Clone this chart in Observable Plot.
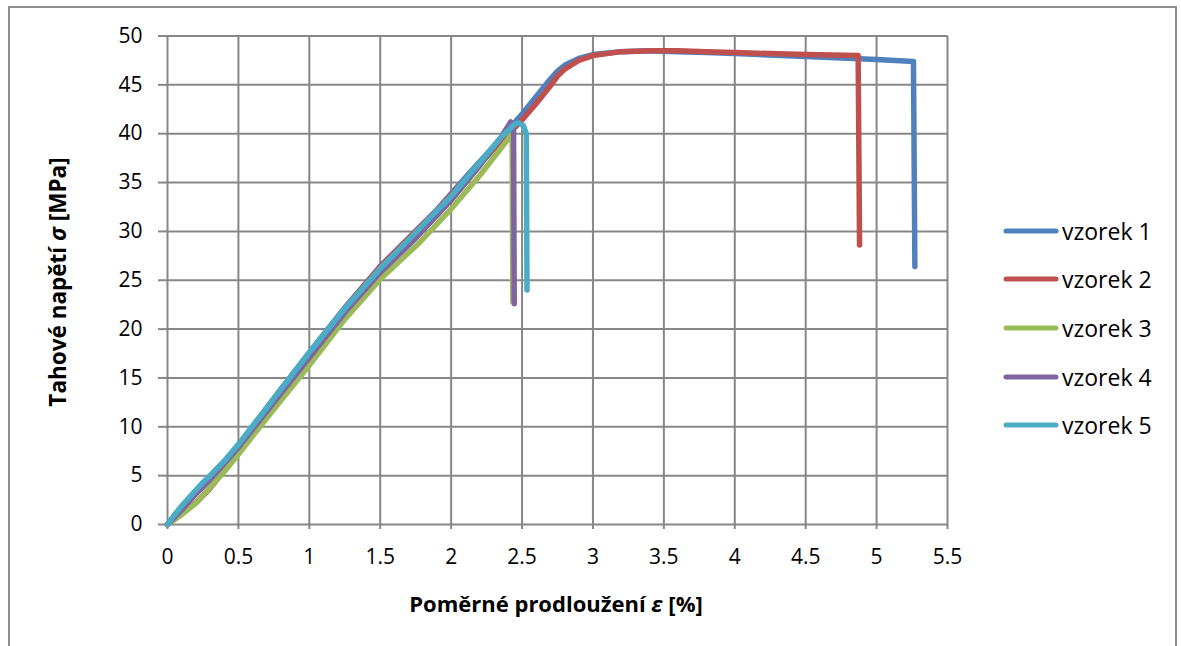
<!DOCTYPE html>
<html>
<head>
<meta charset="utf-8">
<script src="https://cdn.jsdelivr.net/npm/d3@7"></script>
<script src="https://cdn.jsdelivr.net/npm/@observablehq/plot@0.6"></script>
<style>
  html, body { margin: 0; padding: 0; background: #fff; }
  #wrap { position: relative; width: 1181px; height: 646px; overflow: hidden; font-family: "Open Sans", sans-serif; color: #000; }
  #frame { position: absolute; left: 8px; top: 6px; width: 1169px; height: 700px; border: 2px solid #8e8e8e; box-sizing: border-box; }
  #chart { position: absolute; left: 0; top: 0; }
  .xtitle { position: absolute; left: 556px; top: 603px; transform: translate(-50%, -50%); font-weight: bold; font-size: 22px; white-space: nowrap; }
  .ytitle { position: absolute; left: 57px; top: 282px; transform: translate(-50%, -50%) rotate(-90deg); font-weight: bold; font-size: 22.5px; white-space: nowrap; }
  #legend { position: absolute; left: 1003px; top: 0; }
  .item { position: absolute; left: 0; height: 30px; display: flex; align-items: center; white-space: nowrap; font-size: 23px; }
  .item svg { display: block; margin-right: 3px; }
</style>
</head>
<body>
<div id="wrap">
  <div id="frame"></div>
  <div id="chart"></div>
  <div class="xtitle">Poměrné prodloužení <i>ε</i> [%]</div>
  <div class="ytitle">Tahové napětí <i>σ</i> [MPa]</div>
  <div id="legend"></div>
</div>
<script>
const seriesNames = ["vzorek 1", "vzorek 2", "vzorek 3", "vzorek 4", "vzorek 5"];
const seriesColors = ["#4F81BD", "#C0504D", "#9BBB59", "#8064A2", "#4BACC6"];
const xTicks = [0, 0.5, 1, 1.5, 2, 2.5, 3, 3.5, 4, 4.5, 5, 5.5];
const yTicks = [0, 5, 10, 15, 20, 25, 30, 35, 40, 45, 50];

// vzorek 1
const eps1 = [0, 0.05, 0.1, 0.18, 0.25, 0.3, 0.4, 0.5, 0.75, 1.0, 1.25, 1.5, 1.73, 1.9, 2.1, 2.3, 2.5, 2.6, 2.7, 2.75, 2.8, 2.9, 3.0, 3.2, 3.4, 3.6, 3.8, 4.0, 4.5, 5.0, 5.26, 5.27];
const sig1 = [0, 0.9, 1.8, 3.0, 4.2, 4.9, 6.4, 8.1, 12.9, 17.6, 22.2, 26.4, 29.7, 32.2, 35.5, 38.7, 42.0, 43.8, 45.6, 46.4, 47.0, 47.7, 48.1, 48.4, 48.5, 48.4, 48.3, 48.2, 47.9, 47.6, 47.4, 26.4];
// vzorek 2
const eps2 = [0, 0.05, 0.1, 0.2, 0.3, 0.4, 0.5, 0.75, 1.0, 1.25, 1.5, 1.74, 1.9, 2.1, 2.3, 2.5, 2.6, 2.7, 2.75, 2.8, 2.9, 3.0, 3.2, 3.4, 3.6, 3.8, 4.0, 4.5, 4.87, 4.88];
const sig2 = [0, 0.6, 1.2, 2.2, 3.7, 5.5, 7.5, 12.6, 17.4, 22.1, 26.4, 29.9, 32.2, 35.3, 38.4, 41.4, 43.1, 44.9, 45.9, 46.6, 47.5, 48.0, 48.4, 48.5, 48.5, 48.4, 48.3, 48.1, 48.0, 28.6];
// vzorek 3
const eps3 = [0, 0.1, 0.2, 0.3, 0.4, 0.5, 0.75, 1.0, 1.25, 1.5, 1.78, 2.0, 2.2, 2.4, 2.43, 2.435];
const sig3 = [0, 1.0, 2.2, 3.8, 5.4, 7.2, 11.8, 16.3, 21.0, 25.1, 28.9, 32.3, 35.7, 39.4, 40.0, 22.8];
// vzorek 4
const eps4 = [0, 0.1, 0.18, 0.3, 0.5, 0.75, 1.0, 1.25, 1.5, 1.75, 2.0, 2.2, 2.35, 2.42, 2.44, 2.445];
const sig4 = [0, 1.5, 2.8, 4.6, 7.9, 12.5, 17.1, 21.7, 25.8, 29.3, 33.2, 36.7, 39.6, 41.2, 40.8, 22.6];
// vzorek 5
const eps5 = [0, 0.05, 0.1, 0.18, 0.25, 0.3, 0.4, 0.5, 0.75, 1.0, 1.25, 1.5, 1.73, 2.0, 2.2, 2.35, 2.45, 2.48, 2.51, 2.53, 2.535];
const sig5 = [0, 1.0, 1.9, 3.2, 4.3, 5.0, 6.5, 8.2, 12.9, 17.6, 22.1, 26.2, 29.6, 33.6, 37.0, 39.6, 41.0, 41.1, 40.8, 40.0, 24.0];

const epsAll = [eps1, eps2, eps3, eps4, eps5];
const sigAll = [sig1, sig2, sig3, sig4, sig5];
const rows = [];
seriesNames.forEach((name, i) => {
  epsAll[i].forEach((e, j) => rows.push({series: name, eps: e, sig: sigAll[i][j]}));
});

const gridColor = "#878787";
const chart = Plot.plot({
  width: 1181,
  height: 646,
  marginLeft: 167,
  marginRight: 234,
  marginTop: 35.5,
  marginBottom: 122,
  style: {fontFamily: "'Open Sans', sans-serif", fontSize: "21px", color: "#000", background: "transparent", overflow: "visible"},
  x: {domain: [0, 5.5]},
  y: {domain: [0, 50]},
  color: {domain: seriesNames, range: seriesColors},
  marks: [
    Plot.gridX(xTicks, {stroke: gridColor, strokeOpacity: 1, strokeWidth: 2}),
    Plot.gridY(yTicks, {stroke: gridColor, strokeOpacity: 1, strokeWidth: 2}),
    Plot.axisX(xTicks, {tickSize: 5, tickPadding: 20, stroke: gridColor, strokeWidth: 2, strokeOpacity: 1, tickFormat: d => String(d), label: null, fontSize: 21, fill: "#000"}),
    Plot.axisY(yTicks, {tickSize: 9, tickPadding: 16, stroke: gridColor, strokeWidth: 2, strokeOpacity: 1, label: null, fontSize: 21, fill: "#000"}),
    Plot.line(rows, {x: "eps", y: "sig", z: "series", stroke: "series", strokeWidth: 5.5, strokeLinejoin: "round", strokeLinecap: "round"})
  ]
});
document.getElementById("chart").appendChild(chart);

const legend = document.getElementById("legend");
const legendTops = [216, 264, 313, 362, 410];
seriesNames.forEach((name, i) => {
  const it = document.createElement("div");
  it.className = "item";
  it.style.top = legendTops[i] + "px";
  it.innerHTML = `<svg width="56" height="10"><line x1="3" y1="5" x2="53" y2="5" stroke="${seriesColors[i]}" stroke-width="5" stroke-linecap="round"/></svg><span>${name}</span>`;
  legend.appendChild(it);
});
</script>
</body>
</html>
